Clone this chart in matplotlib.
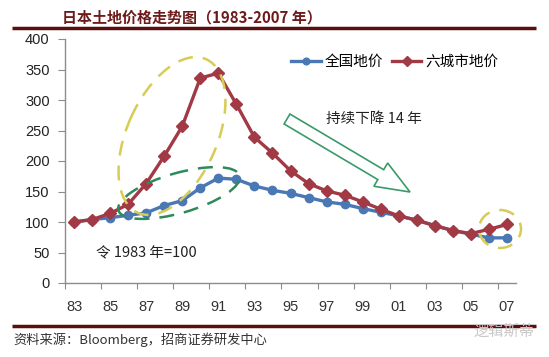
import matplotlib.pyplot as plt
from matplotlib.patches import Ellipse, FancyArrow
import numpy as np

plt.rcParams['font.family'] = ['Noto Sans CJK SC', 'DejaVu Sans']

# data (1983 = 100)
years = list(range(1983, 2008))
tick_labels = ['83', '85', '87', '89', '91', '93', '95', '97', '99', '01', '03', '05', '07']
national = [100, 104, 107, 111, 115, 127, 135, 156, 172, 170, 159, 152, 147,
            140, 133, 129, 122, 116, 110, 103, 94, 86, 80, 74, 74]
six_cities = [100, 104, 114, 129, 163, 208, 257, 336, 344, 293, 239, 213, 184,
              163, 151, 144, 133, 121, 110, 103, 94, 86, 81, 88, 96]
series_names = ['全国地价', '六城市地价']

blue = '#4a78b4'
red = '#a13a45'
axis_grey = '#8c8c8c'

fig = plt.figure(figsize=(5.49, 3.57), dpi=100)
ax = fig.add_axes([65 / 549, 1 - 283 / 357, 451 / 549, 244 / 357])

x = np.arange(len(years))
ax.plot(x, national, color=blue, lw=2.4, marker='o', ms=6, mec=blue, mfc=blue,
        label=series_names[0], zorder=3)
ax.plot(x, six_cities, color=red, lw=2.4, marker='D', ms=6, mec=red, mfc=red,
        label=series_names[1], zorder=4)

ax.set_xlim(-0.5, len(years) - 0.5)
ax.set_ylim(0, 400)
ax.set_yticks(np.arange(0, 401, 50))
ax.set_xticks(np.arange(-0.5, len(years) - 1, 2))
ax.set_xticklabels([])
ax.set_xticks(np.arange(0, len(years), 2), minor=True)
ax.set_xticklabels(tick_labels, minor=True)
ax.tick_params(axis='x', which='major', direction='out', length=4, color=axis_grey)
ax.tick_params(axis='x', which='minor', length=0, pad=12, labelsize=10.5, labelcolor='#333333')
ax.tick_params(axis='y', direction='out', length=5, color=axis_grey, labelsize=10.5,
               labelcolor='#222222', pad=6)
for lab in ax.get_xticklabels(minor=True) + ax.get_yticklabels():
    lab.set_family('Liberation Sans')
for s in ['top', 'right']:
    ax.spines[s].set_visible(False)
for s in ['left', 'bottom']:
    ax.spines[s].set_color(axis_grey)
    ax.spines[s].set_linewidth(1)

leg = ax.legend(loc='upper right', bbox_to_anchor=(512 / 549, 1 - 42 / 357),
                bbox_transform=fig.transFigure, ncol=2, frameon=False,
                handlelength=2.0, handletextpad=0.3, columnspacing=0.6,
                fontsize=10.5, markerscale=0.8)

# overlay in pixel coordinates for the hand-drawn marks and the page furniture
ov = fig.add_axes([0, 0, 1, 1], zorder=5)
ov.set_xlim(0, 549)
ov.set_ylim(357, 0)
ov.axis('off')
ov.patch.set_alpha(0)

ov.text(62, 17, '日本土地价格走势图（1983-2007 年）', fontsize=10.8, fontweight='bold',
        color='#6e1a1a', va='center', ha='left')
ov.plot([12, 536], [28, 28], color='#5a0e0e', lw=2.5, solid_capstyle='butt')
ov.plot([12, 536], [326, 326], color='#5a0e0e', lw=2.5, solid_capstyle='butt')
ov.text(13, 340, '资料来源：Bloomberg，招商证券研发中心', fontsize=9.5, color='#333333',
        va='center', ha='left')
ov.text(535, 331, '逻辑斯蒂', fontsize=11, color='#c8c8c8', va='center', ha='right')

ov.add_patch(Ellipse((172, 136), 168, 90, angle=-66, fill=False, ec='#d8cc55',
                     lw=1.8, ls=(0, (6, 4))))
ov.add_patch(Ellipse((179, 193), 126, 40, angle=-16, fill=False, ec='#2e8a5a',
                     lw=1.8, ls=(0, (6, 4))))
ov.add_patch(Ellipse((500, 229), 42, 38, fill=False, ec='#d8cc55',
                     lw=1.8, ls=(0, (6, 4))))
ov.add_patch(FancyArrow(287, 119, 123, 73, width=11.5, head_width=27, head_length=34,
                        length_includes_head=True, fc='white', ec='#3a9a6a', lw=1.2))

ov.text(374, 119, '持续下降 14 年', fontsize=10.5, color='#222222', ha='center', va='center')
ov.text(146, 253, '令 1983 年=100', fontsize=10.5, color='#222222', ha='center', va='center')

fig.savefig('out.png', dpi=100)
